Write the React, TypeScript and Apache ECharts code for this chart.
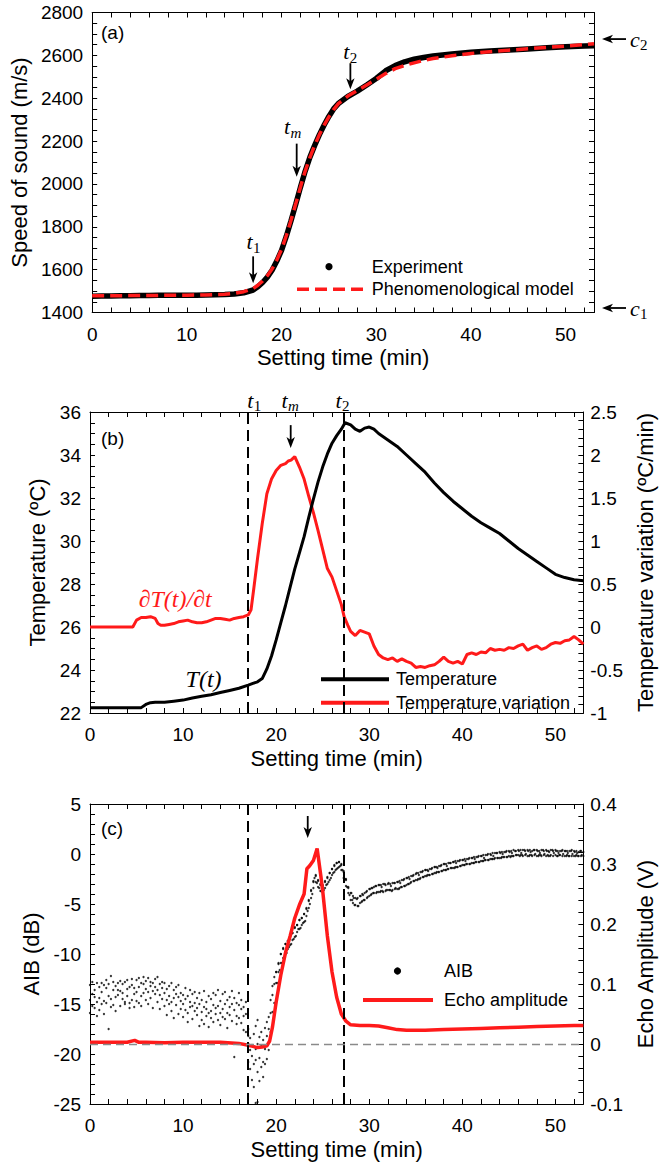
import { useEffect, useRef } from "react";
import * as echarts from "echarts";

const SANS = '"Liberation Sans", Arial, Helvetica, sans-serif';
const SERIF = '"Liberation Serif", "Times New Roman", serif';

// ---------------- Tick labels ----------------
const X_LABELS = [0, 10, 20, 30, 40, 50];
const A_Y_LABELS = [1400, 1600, 1800, 2000, 2200, 2400, 2600, 2800];
const B_LEFT_LABELS = [22, 24, 26, 28, 30, 32, 34, 36];
const B_RIGHT_LABELS = [-1, -0.5, 0, 0.5, 1, 1.5, 2, 2.5];
const C_LEFT_LABELS = [-25, -20, -15, -10, -5, 0, 5];
const C_RIGHT_LABELS = [-0.1, 0, 0.1, 0.2, 0.3, 0.4];

// ---------------- Panel (a): speed of sound ----------------
const A_EXP_T = [0, 1, 2, 3, 4, 5, 6, 7, 8, 9, 10, 11, 12, 13, 14, 15, 16, 17, 17.5, 18, 18.5, 19, 19.5, 20, 20.5, 21, 21.5, 22, 22.5, 23, 23.5, 24, 24.5, 25, 25.5, 26, 27, 28, 29, 30, 31, 32, 33, 34, 35, 36, 38, 40, 42, 44, 46, 48, 50, 52, 53];
const A_EXP_V = [1476, 1477, 1477, 1478, 1478, 1479, 1479, 1480, 1480, 1480, 1481, 1481, 1482, 1483, 1484, 1486, 1492, 1505, 1520, 1540, 1565, 1597, 1640, 1690, 1755, 1828, 1905, 1985, 2060, 2125, 2180, 2230, 2275, 2315, 2350, 2375, 2408, 2433, 2462, 2492, 2528, 2552, 2570, 2582, 2590, 2597, 2606, 2614, 2620, 2625, 2630, 2635, 2640, 2644, 2645];
const A_MOD_T = [0, 5, 10, 12, 14, 15, 16, 17, 17.5, 18, 18.5, 19, 19.5, 20, 20.5, 21, 21.5, 22, 22.5, 23, 23.5, 24, 24.5, 25, 25.5, 26, 27, 28, 29, 30, 31, 32, 33, 34, 35, 36, 38, 40, 42, 44, 46, 48, 50, 52, 53];
const A_MOD_V = [1478, 1479, 1481, 1482, 1485, 1489, 1497, 1512, 1527, 1547, 1572, 1603, 1645, 1695, 1758, 1830, 1907, 1986, 2060, 2124, 2180, 2230, 2274, 2313, 2347, 2375, 2410, 2436, 2462, 2488, 2515, 2538, 2553, 2565, 2576, 2585, 2598, 2609, 2617, 2624, 2631, 2637, 2643, 2650, 2654];

// ---------------- Panel (b): temperature ----------------
const B_TEMP_T = [0, 5.5, 6, 6.5, 7, 8, 9, 10, 11, 12, 13, 14, 15, 16, 17, 17.5, 18, 18.5, 19, 19.5, 20, 20.5, 21, 21.5, 22, 22.5, 23, 23.5, 24, 24.5, 25, 25.5, 26, 26.5, 27, 27.4, 28, 28.5, 29, 29.5, 30, 30.5, 31, 32, 33, 34, 35, 36, 37, 38, 39, 40, 41, 42, 43, 44, 45, 46, 47, 48, 49, 50, 51, 52, 53];
const B_TEMP_V = [22.25, 22.25, 22.4, 22.48, 22.5, 22.5, 22.55, 22.6, 22.7, 22.78, 22.85, 22.95, 23.05, 23.15, 23.3, 23.38, 23.45, 23.6, 24.05, 24.65, 25.4, 26.2, 27.0, 27.85, 28.7, 29.45, 30.2, 31.1, 31.95, 32.75, 33.45, 34.05, 34.55, 34.9, 35.2, 35.5, 35.4, 35.2, 35.1, 35.25, 35.3, 35.2, 35.0, 34.7, 34.4, 34.0, 33.6, 33.2, 32.7, 32.25, 31.85, 31.5, 31.15, 30.85, 30.6, 30.35, 30.0, 29.65, 29.35, 29.05, 28.75, 28.45, 28.3, 28.2, 28.15];
const B_VAR_T = [0, 4.6, 5, 5.5, 6, 6.5, 7, 7.3, 7.6, 8, 8.5, 9, 9.5, 10, 10.5, 11, 11.5, 12, 12.5, 13, 13.5, 14, 14.5, 15, 15.5, 16, 16.5, 17, 17.3, 17.6, 18, 18.5, 19, 19.5, 20, 20.5, 21, 21.3, 21.6, 22, 22.5, 23, 23.5, 24, 24.5, 25, 25.5, 26, 26.5, 27, 27.3, 27.7, 28, 28.5, 29, 29.5, 30, 30.5, 31, 31.5, 32, 32.5, 33, 33.5, 34, 34.5, 35, 35.5, 36, 36.5, 37, 37.5, 38, 38.5, 39, 39.5, 40, 40.5, 41, 41.5, 42, 42.5, 43, 43.5, 44, 44.5, 45, 45.5, 46, 46.5, 47, 47.5, 48, 48.5, 49, 49.5, 50, 50.5, 51, 51.5, 52, 52.5, 53];
const B_VAR_V = [0, 0, 0.08, 0.11, 0.11, 0.12, 0.1, 0.04, 0.02, 0.02, 0.03, 0.04, 0.06, 0.07, 0.08, 0.06, 0.05, 0.05, 0.06, 0.08, 0.1, 0.1, 0.09, 0.08, 0.1, 0.11, 0.12, 0.14, 0.2, 0.45, 0.8, 1.2, 1.55, 1.72, 1.82, 1.88, 1.9, 1.93, 1.94, 1.98, 1.86, 1.72, 1.52, 1.33, 1.12, 0.9, 0.68, 0.58, 0.42, 0.26, 0.12, 0.02, -0.05, -0.1, -0.04, -0.06, -0.08, -0.22, -0.32, -0.36, -0.38, -0.36, -0.4, -0.37, -0.4, -0.42, -0.47, -0.46, -0.47, -0.45, -0.44, -0.4, -0.35, -0.4, -0.42, -0.4, -0.43, -0.32, -0.3, -0.32, -0.29, -0.3, -0.25, -0.27, -0.26, -0.27, -0.24, -0.25, -0.22, -0.2, -0.27, -0.24, -0.22, -0.26, -0.24, -0.2, -0.18, -0.19, -0.16, -0.15, -0.11, -0.15, -0.2];

// ---------------- Panel (c): echo amplitude and AIB ----------------
const C_ECHO_T = [0, 2, 4, 4.8, 5.2, 6, 8, 10, 12, 14, 16, 17, 17.5, 18, 18.5, 19, 19.3, 19.6, 20, 20.5, 21, 21.5, 22, 22.5, 23, 23.3, 23.6, 24, 24.4, 24.8, 25, 25.5, 26, 26.5, 27, 27.5, 28, 29, 30, 31, 32, 33, 34, 36, 38, 40, 42, 44, 46, 48, 50, 52, 53];
const C_ECHO_V = [0.003, 0.003, 0.003, 0.006, 0.003, 0.003, 0.002, 0.003, 0.003, 0.003, 0.001, -0.002, -0.004, -0.006, -0.005, -0.003, 0.005, 0.028, 0.07, 0.115, 0.152, 0.18, 0.21, 0.232, 0.25, 0.292, 0.297, 0.306, 0.326, 0.28, 0.255, 0.18, 0.12, 0.078, 0.05, 0.038, 0.032, 0.031, 0.031, 0.03, 0.027, 0.024, 0.023, 0.023, 0.024, 0.025, 0.026, 0.027, 0.028, 0.029, 0.03, 0.031, 0.031];

// AIB readings: each row is [time, value, value, ...]
const C_AIB_ROWS = [
  [0, -13.1, -14.6, -15.9], [0.25, -14.0, -12.8, -15.2], [0.5, -13.6, -15.4, -14.3], [0.75, -12.9, -14.8, -16.2],
  [1, -14.4, -13.3, -15.6], [1.25, -13.8, -15.0, -12.9], [1.5, -14.7, -13.1, -16.0], [1.75, -13.4, -14.9, -12.6],
  [2, -14.2, -17.5, -13.0], [2.25, -12.2, -14.5, -15.3], [2.5, -13.6, -12.8, -15.1], [2.75, -14.3, -13.2, -15.7],
  [3, -12.9, -14.1, -13.6], [3.25, -13.7, -15.2, -12.7], [3.5, -14.5, -13.0, -13.9], [3.75, -12.8, -14.8, -15.0],
  [4, -13.5, -14.2, -12.6], [4.25, -14.9, -13.3, -15.4], [4.5, -13.1, -12.5, -14.6], [4.75, -14.0, -15.3, -13.4],
  [5, -12.6, -13.8, -14.7], [5.25, -13.3, -14.9, -12.4], [5.5, -14.2, -12.9, -15.2], [5.75, -13.0, -13.9, -12.3],
  [6, -12.7, -14.6, -13.5], [6.25, -13.8, -12.4, -15.0], [6.5, -14.4, -13.2, -12.8], [6.75, -12.9, -15.4, -13.7],
  [7, -12.5, -14.0, -13.3], [7.25, -13.6, -12.3, -14.8], [7.5, -14.1, -13.0, -15.5], [7.75, -12.8, -14.5, -13.4],
  [8, -13.9, -15.2, -12.9], [8.25, -14.6, -13.5, -16.1], [8.5, -13.2, -15.0, -14.2], [8.75, -14.8, -12.9, -15.7],
  [9, -13.6, -14.4, -16.4], [9.25, -15.1, -13.3, -14.0], [9.5, -14.3, -16.0, -13.1], [9.75, -15.5, -13.9, -14.7],
  [10, -14.1, -16.3, -15.0], [10.25, -13.4, -15.6, -14.5], [10.5, -15.9, -14.2, -16.8], [10.75, -14.8, -13.6, -15.3],
  [11, -15.2, -16.5, -14.0], [11.25, -13.8, -15.7, -14.9], [11.5, -16.1, -14.4, -15.4], [11.75, -15.0, -17.2, -13.9],
  [12, -14.6, -15.8, -16.6], [12.25, -15.3, -13.7, -17.0], [12.5, -16.2, -14.8, -15.5], [12.75, -14.2, -15.9, -17.3],
  [13, -15.7, -14.5, -16.4], [13.25, -13.9, -16.8, -15.1], [13.5, -15.4, -14.1, -16.0], [13.75, -16.6, -15.2, -13.6],
  [14, -14.7, -15.9, -17.1], [14.25, -15.5, -14.0, -16.3], [14.5, -13.8, -16.5, -15.0], [14.75, -15.9, -14.6, -17.4],
  [15, -14.3, -16.1, -15.3], [15.25, -16.7, -15.0, -13.7], [15.5, -15.6, -20.3, -14.4], [15.75, -16.2, -14.9, -17.0],
  [16, -15.1, -16.4, -13.9], [16.25, -16.9, -15.5, -14.6], [16.5, -15.3, -17.6, -16.2], [16.75, -14.8, -16.0, -17.8],
  [17, -17.5, -19.0, -20.8, -18.2], [17.2, -19.6, -21.5, -18.4], [17.4, -20.2, -22.6, -19.1], [17.6, -18.0, -21.0, -23.3],
  [17.8, -19.5, -24.9, -20.6, -17.2], [18, -21.8, -24.8, -19.0, -16.6], [18.2, -20.4, -18.3, -22.7], [18.4, -19.2, -21.3, -17.8],
  [18.6, -20.8, -18.6, -22.3], [18.8, -19.5, -17.4, -21.0], [19, -18.2, -20.5, -16.8], [19.2, -17.5, -19.6, -16.3],
  [19.4, -15.9, -17.8, -14.6], [19.6, -14.1, -15.8, -13.2], [19.8, -13.0, -14.9, -12.3],
  [20, -11.8, -12.9], [20.25, -10.9, -11.8], [20.5, -10.0, -10.9], [20.75, -9.5, -10.4],
  [21, -9.0, -9.9], [21.25, -8.7, -9.5], [21.5, -8.2, -9.1], [21.75, -7.9, -8.6],
  [22, -7.4, -8.3], [22.25, -7.1, -7.8], [22.5, -6.6, -7.5], [22.75, -6.4, -7.1],
  [23, -6.0, -6.8], [23.25, -5.4, -6.2], [23.5, -4.6, -5.4], [23.75, -3.6, -4.4],
  [24, -2.7, -3.4], [24.25, -2.1, -2.8], [24.5, -2.6, -3.3], [24.75, -3.0, -3.7],
  [25, -3.1, -3.8], [25.25, -2.7, -3.4], [25.5, -2.3, -3.0], [25.75, -1.9, -2.6],
  [26, -1.5, -2.1], [26.25, -1.1, -1.8], [26.5, -0.9, -1.5], [26.75, -0.8, -1.3],
  [27, -1.0, -1.6], [27.25, -1.7, -2.4], [27.5, -2.5, -3.2], [27.75, -3.3, -3.9],
  [28, -3.9, -4.6], [28.25, -4.2, -4.9], [28.5, -4.4, -5.1], [28.75, -4.4, -5.2],
  [29, -4.2, -4.9], [29.25, -4.0, -4.7], [29.5, -3.9, -4.6], [29.75, -3.7, -4.4],
  [30, -3.5, -4.2], [30.25, -3.4, -4.0], [30.5, -3.3, -3.9], [30.75, -3.2, -3.9],
  [31, -3.1, -3.8], [31.25, -3.1, -3.7], [31.5, -3.0, -3.8], [31.75, -3.1, -3.7],
  [32, -3.0, -3.6], [32.25, -3.0, -3.6], [32.5, -2.9, -3.6], [32.75, -2.9, -3.5],
  [33, -2.8, -3.5], [33.25, -2.7, -3.4], [33.5, -2.6, -3.3], [33.75, -2.5, -3.2],
  [34, -2.4, -3.1], [34.25, -2.3, -3.0], [34.5, -2.2, -2.8], [34.75, -2.1, -2.7],
  [35, -2.0, -2.6], [35.25, -1.9, -2.5], [35.5, -1.8, -2.4], [35.75, -1.7, -2.3],
  [36, -1.6, -2.2], [36.25, -1.6, -2.1], [36.5, -1.5, -2.1], [36.75, -1.4, -2.0],
  [37, -1.3, -1.9], [37.25, -1.3, -1.8], [37.5, -1.2, -1.8], [37.75, -1.1, -1.7],
  [38, -1.0, -1.6], [38.25, -1.0, -1.6], [38.5, -0.9, -1.5], [38.75, -0.9, -1.4],
  [39, -0.8, -1.4], [39.25, -0.7, -1.3], [39.5, -0.7, -1.3], [39.75, -0.6, -1.2],
  [40, -0.6, -1.1], [40.25, -0.5, -1.1], [40.5, -0.5, -1.0], [40.75, -0.4, -1.0],
  [41, -0.4, -0.9], [41.25, -0.3, -0.9], [41.5, -0.3, -0.8], [41.75, -0.2, -0.8],
  [42, -0.2, -0.7], [42.25, -0.1, -0.7], [42.5, -0.1, -0.6], [42.75, 0.0, -0.6],
  [43, 0.0, -0.5], [43.25, 0.1, -0.5], [43.5, 0.1, -0.4], [43.75, 0.1, -0.4],
  [44, 0.2, -0.4], [44.25, 0.2, -0.3], [44.5, 0.2, -0.3], [44.75, 0.3, -0.3],
  [45, 0.3, -0.2], [45.25, 0.3, -0.2], [45.5, 0.4, -0.2], [45.75, 0.3, -0.1],
  [46, 0.4, -0.1], [46.25, 0.4, -0.1], [46.5, 0.4, -0.2], [46.75, 0.3, -0.1],
  [47, 0.4, -0.2], [47.25, 0.4, -0.1], [47.5, 0.3, -0.2], [47.75, 0.4, -0.1],
  [48, 0.4, -0.2], [48.25, 0.3, -0.1], [48.5, 0.4, -0.2], [48.75, 0.3, -0.1],
  [49, 0.4, -0.2], [49.25, 0.3, -0.2], [49.5, 0.4, -0.1], [49.75, 0.3, -0.2],
  [50, 0.4, -0.1], [50.25, 0.3, -0.2], [50.5, 0.3, -0.1], [50.75, 0.4, -0.2],
  [51, 0.3, -0.2], [51.25, 0.3, -0.1], [51.5, 0.3, -0.2], [51.75, 0.4, -0.2],
  [52, 0.3, -0.2], [52.25, 0.3, -0.1], [52.5, 0.2, -0.2], [52.75, 0.3, -0.2],
  [53, 0.2, -0.2],
];

// Further AIB readings inside the band after the set point: [time, value]
const C_AIB_PAIRS = [
  [20.0, -11.8], [20.12, -12.9], [20.25, -11.0], [20.38, -11.6], [20.5, -10.0], [20.62, -10.9], [20.75, -9.4], [20.88, -10.3],
  [21.0, -9.0], [21.12, -9.9], [21.25, -8.7], [21.38, -9.3], [21.5, -8.2], [21.62, -9.0], [21.75, -7.9], [21.88, -8.5],
  [22.0, -7.3], [22.12, -8.2], [22.25, -7.1], [22.38, -7.5], [22.5, -6.6], [22.62, -7.4], [22.75, -6.4], [22.88, -6.9],
  [23.0, -6.0], [23.12, -6.7], [23.25, -5.5], [23.38, -5.7], [23.5, -4.7], [23.62, -5.0], [23.75, -3.7], [23.88, -4.0],
  [24.0, -2.8], [24.12, -2.4], [24.25, -2.2], [24.38, -2.9], [24.5, -2.7], [24.62, -3.4], [24.75, -3.1], [24.88, -3.7],
  [25.0, -3.2], [25.12, -3.6], [25.25, -2.8], [25.38, -3.1], [25.5, -2.4], [25.62, -2.8], [25.75, -1.9], [25.88, -2.4],
  [26.0, -1.5], [26.12, -1.9], [26.25, -1.2], [26.38, -1.6], [26.5, -0.9], [26.62, -1.4], [26.75, -0.8], [26.88, -1.2],
  [27.0, -1.1], [27.12, -1.6], [27.25, -1.8], [27.38, -2.5], [27.5, -2.6], [27.62, -3.3], [27.75, -3.4], [27.88, -4.1],
  [28.08, -3.9], [28.17, -4.6], [28.33, -4.4], [28.42, -5.1], [28.67, -4.5], [28.83, -5.2],
  [29.08, -4.2], [29.17, -4.8], [29.33, -4.1], [29.42, -4.6], [29.67, -3.8], [29.83, -4.3],
  [30.08, -3.5], [30.17, -4.1], [30.33, -3.4], [30.42, -3.9], [30.67, -3.2], [30.83, -3.8],
  [31.08, -3.1], [31.17, -3.8], [31.33, -3.3], [31.42, -3.7], [31.67, -3.0], [31.83, -3.6],
  [32.08, -2.9], [32.17, -3.6], [32.33, -3.2], [32.42, -3.7], [32.67, -2.9], [32.83, -3.4],
  [33.08, -2.8], [33.17, -3.5], [33.33, -2.9], [33.42, -3.3], [33.67, -2.6], [33.83, -3.2],
  [34.08, -2.4], [34.17, -3.0], [34.33, -2.5], [34.42, -2.9], [34.67, -2.2], [34.83, -2.7],
  [35.08, -1.9], [35.17, -2.6], [35.33, -2.1], [35.42, -2.5], [35.67, -1.8], [35.83, -2.3],
  [36.08, -1.6], [36.17, -2.2], [36.33, -1.7], [36.42, -2.1], [36.67, -1.5], [36.83, -2.0],
  [37.08, -1.3], [37.17, -1.9], [37.33, -1.4], [37.42, -1.8], [37.67, -1.2], [37.83, -1.7],
  [38.08, -1.0], [38.17, -1.6], [38.33, -1.2], [38.42, -1.5], [38.67, -0.9], [38.83, -1.4],
  [39.08, -0.8], [39.17, -1.4], [39.33, -0.9], [39.42, -1.3], [39.67, -0.7], [39.83, -1.2],
  [40.08, -0.6], [40.17, -1.1], [40.33, -0.7], [40.42, -1.0], [40.67, -0.5], [40.83, -1.0],
  [41.08, -0.4], [41.17, -0.9], [41.33, -0.5], [41.42, -0.8], [41.67, -0.3], [41.83, -0.8],
  [42.08, -0.2], [42.17, -0.7], [42.33, -0.4], [42.42, -0.6], [42.67, -0.1], [42.83, -0.6],
  [43.08, -0.1], [43.17, -0.5], [43.33, -0.2], [43.42, -0.5], [43.67, 0.1], [43.83, -0.4],
  [44.08, 0.1], [44.17, -0.4], [44.33, 0.0], [44.42, -0.3], [44.67, 0.2], [44.83, -0.3],
  [45.08, 0.2], [45.17, -0.3], [45.33, 0.1], [45.42, -0.2], [45.67, 0.3], [45.83, -0.1],
  [46.08, 0.3], [46.17, -0.2], [46.33, 0.1], [46.42, -0.1], [46.67, 0.4], [46.83, 0.0],
  [47.08, 0.3], [47.17, -0.2], [47.33, 0.2], [47.42, -0.1], [47.67, 0.4], [47.83, 0.0],
  [48.08, 0.3], [48.17, -0.2], [48.33, 0.1], [48.42, -0.1], [48.67, 0.4], [48.83, 0.0],
  [49.08, 0.3], [49.17, -0.1], [49.33, 0.2], [49.42, -0.2], [49.67, 0.4], [49.83, 0.1],
  [50.08, 0.3], [50.17, -0.2], [50.33, 0.1], [50.42, -0.1], [50.67, 0.3], [50.83, 0.0],
  [51.08, 0.3], [51.17, -0.2], [51.33, 0.1], [51.42, -0.2], [51.67, 0.3], [51.83, 0.0],
  [52.08, 0.2], [52.17, -0.2], [52.33, 0.1], [52.42, -0.2], [52.67, 0.3], [52.83, -0.1],
];

// ---------------- Event times and annotation anchors (data coords) ----------------
const T1 = 17.0;
const T2 = 27.3;
const ANN_A_T1 = [17.0, 1536];
const ANN_A_TM = [21.6, 2034];
const ANN_A_T2 = [27.27, 2442];
const ANN_A_C2 = [53, 2676];
const ANN_A_C1 = [53, 1421];
const ANN_B_TM = [21.56, 34.32];
const ANN_B_DT = [9.15, 27.3];
const ANN_B_TT = [12.2, 23.6];
const ANN_C_ARROW = [23.39, 1.6];

const zip = (xs: number[], ys: number[]) => xs.map((x, i) => [x, ys[i]]);
const lblFmt = (labels: number[]) => (v: number) => {
  const hit = labels.find((l) => Math.abs(l - v) < 1e-6);
  return hit === undefined ? "" : String(hit);
};

const axisLine = { show: true, onZero: false, lineStyle: { color: "#000", width: 1 } };
const tick = { show: true, inside: true, length: 5, lineStyle: { color: "#000", width: 1 } };
const nameStyle = { fontSize: 22, fontFamily: SANS, color: "#000" };

function xAxes(gridIndex: number) {
  return [
    {
      type: "value", gridIndex, position: "bottom", min: 0, max: 53, interval: 2,
      axisLine, axisTick: tick, splitLine: { show: false },
      axisLabel: { margin: 12, fontSize: 19, fontFamily: SANS, color: "#000", formatter: lblFmt(X_LABELS) },
      name: "Setting time (min)", nameLocation: "middle", nameGap: 34, nameTextStyle: nameStyle,
    },
    {
      type: "value", gridIndex, position: "top", min: 0, max: 53, interval: 2,
      axisLine, axisTick: tick, splitLine: { show: false }, axisLabel: { show: false },
    },
  ];
}

function yAxis(gridIndex: number, position: string, min: number, max: number, interval: number, labels: number[] | null, name: string, nameGap: number) {
  return {
    type: "value", gridIndex, position, min, max, interval,
    axisLine, axisTick: tick, splitLine: { show: false },
    axisLabel: labels
      ? { show: true, margin: position === "left" ? 9 : 7, fontSize: 19, fontFamily: SANS, color: "#000", formatter: lblFmt(labels) }
      : { show: false },
    name, nameLocation: "middle", nameGap, nameTextStyle: nameStyle,
  };
}

const vLine = (x: number) => ({ xAxis: x, lineStyle: { color: "#000", width: 2, type: [11, 6] } });

function buildOption() {
  const aib = [...C_AIB_ROWS.flatMap(([t, ...vs]) => vs.map((v) => [t, v])), ...C_AIB_PAIRS];
  return {
    animation: false,
    backgroundColor: "#fff",
    grid: [
      { left: 90, top: 12.5, width: 504, height: 300 },
      { left: 90, top: 412, width: 504, height: 301 },
      { left: 90, top: 804, width: 504, height: 300 },
    ],
    xAxis: [...xAxes(0), ...xAxes(1), ...xAxes(2)],
    yAxis: [
      yAxis(0, "left", 1400, 2800, 50, A_Y_LABELS, "Speed of sound (m/s)", 61),
      yAxis(0, "right", 1400, 2800, 50, null, "", 0),
      yAxis(1, "left", 22, 36, 0.5, B_LEFT_LABELS, "Temperature (ºC)", 39),
      yAxis(1, "right", -1, 2.5, 0.1, B_RIGHT_LABELS, "Temperature variation (ºC/min)", 49),
      yAxis(2, "left", -25, 5, 1, C_LEFT_LABELS, "AIB (dB)", 41),
      yAxis(2, "right", -0.1, 0.4, 0.02, C_RIGHT_LABELS, "Echo Amplitude (V)", 45),
    ],
    series: [
      {
        name: "Experiment", type: "line", xAxisIndex: 0, yAxisIndex: 0, data: zip(A_EXP_T, A_EXP_V),
        symbol: "none", lineStyle: { color: "#000", width: 5.5 }, z: 2, silent: true,
      },
      {
        name: "Phenomenological model", type: "line", xAxisIndex: 0, yAxisIndex: 0, data: zip(A_MOD_T, A_MOD_V),
        symbol: "none", lineStyle: { color: "#ff1a1a", width: 3.5, type: [12, 6] }, z: 3, silent: true,
      },
      {
        name: "Temperature", type: "line", xAxisIndex: 2, yAxisIndex: 2, data: zip(B_TEMP_T, B_TEMP_V),
        symbol: "none", lineStyle: { color: "#000", width: 3 }, z: 3, silent: true,
      },
      {
        name: "Temperature variation", type: "line", xAxisIndex: 2, yAxisIndex: 3, data: zip(B_VAR_T, B_VAR_V),
        symbol: "none", lineStyle: { color: "#ff1a1a", width: 3 }, z: 2, silent: true,
        markLine: { silent: true, symbol: ["none", "none"], label: { show: false }, data: [vLine(T1), vLine(T2)] },
      },
      {
        name: "AIB", type: "scatter", xAxisIndex: 4, yAxisIndex: 4, data: aib,
        symbol: "circle", symbolSize: 2.3, itemStyle: { color: "#000" }, z: 1, silent: true,
      },
      {
        name: "Echo amplitude", type: "line", xAxisIndex: 4, yAxisIndex: 5, data: zip(C_ECHO_T, C_ECHO_V),
        symbol: "none", lineStyle: { color: "#ff1a1a", width: 3.5 }, z: 2, silent: true,
        markLine: {
          silent: true, symbol: ["none", "none"], label: { show: false },
          data: [vLine(T1), vLine(T2), { yAxis: 0, lineStyle: { color: "#8a8a8a", width: 1.3, type: [8, 5] } }],
        },
      },
    ],
  };
}

function buildGraphics(chart: any) {
  const P = (xi: number, yi: number, p: number[]) => chart.convertToPixel({ xAxisIndex: xi, yAxisIndex: yi }, p) as number[];
  const els: any[] = [];
  const text = (x: number, y: number, s: string, o: any = {}) => ({
    type: "text", x, y, silent: true,
    style: {
      text: s, fill: o.color || "#000", fontSize: o.size || 19, fontFamily: o.family || SANS,
      fontStyle: o.italic ? "italic" : "normal",
      align: o.align || "left", textAlign: o.align || "left",
      verticalAlign: "middle", textVerticalAlign: "middle",
    },
  });
  const math = (left: number, cy: number, main: string, sub: string, subItalic = false, color = "#000") => [
    text(left, cy, main, { size: 22, family: SERIF, italic: true, color }),
    text(left + (main === "c" ? 10 : 6.5), cy + 6, sub, { size: 15, family: SERIF, italic: subItalic, color }),
  ];
  const arrowDown = (x: number, tipY: number, len: number) => [
    { type: "line", silent: true, shape: { x1: x, y1: tipY - len, x2: x, y2: tipY - 6 }, style: { stroke: "#000", lineWidth: 1.8 } },
    { type: "polygon", silent: true, shape: { points: [[x - 4.2, tipY - 11], [x, tipY - 8], [x + 4.2, tipY - 11], [x, tipY]] }, style: { fill: "#000" } },
  ];
  const arrowLeft = (tipX: number, y: number, len: number) => [
    { type: "line", silent: true, shape: { x1: tipX + 6, y1: y, x2: tipX + len, y2: y }, style: { stroke: "#000", lineWidth: 1.8 } },
    { type: "polygon", silent: true, shape: { points: [[tipX + 11, y - 4.2], [tipX + 8, y], [tipX + 11, y + 4.2], [tipX, y]] }, style: { fill: "#000" } },
  ];

  // panel letters
  els.push(text(101, 32, "(a)"), text(101, 438, "(b)"), text(101, 828, "(c)"));

  // ---- (a)
  const a1 = P(0, 0, ANN_A_T1);
  els.push(...arrowDown(a1[0], a1[1], 27), ...math(a1[0] - 6.7, a1[1] - 41.6, "t", "1"));
  const am = P(0, 0, ANN_A_TM);
  els.push(...arrowDown(am[0], am[1], 33), ...math(am[0] - 12.7, am[1] - 50, "t", "m", true));
  const a2 = P(0, 0, ANN_A_T2);
  els.push(...arrowDown(a2[0], a2[1], 26), ...math(a2[0] - 7.2, a2[1] - 37.6, "t", "2"));
  const c2 = P(0, 0, ANN_A_C2);
  els.push(...arrowLeft(c2[0] + 8, c2[1], 24), ...math(c2[0] + 36, c2[1], "c", "2"));
  const c1 = P(0, 0, ANN_A_C1);
  els.push(...arrowLeft(c1[0] + 8, c1[1], 24), ...math(c1[0] + 36, c1[1], "c", "1"));

  // legend (a)
  els.push({ type: "circle", silent: true, shape: { cx: 329, cy: 266.7, r: 3.6 }, style: { fill: "#000" } });
  els.push(text(371.7, 266.7, "Experiment", { size: 18 }));
  els.push({ type: "line", silent: true, shape: { x1: 297, y1: 289.3, x2: 365, y2: 289.3 }, style: { stroke: "#ff1a1a", lineWidth: 3.5, lineDash: [12, 6] } });
  els.push(text(371.7, 289.3, "Phenomenological model", { size: 18 }));

  // ---- (b)
  const bt1 = P(2, 2, [T1, 36]);
  const bt2 = P(2, 2, [T2, 36]);
  const bm = P(2, 2, ANN_B_TM);
  els.push(...math(bt1[0] - 1, 400, "t", "1"));
  els.push(...math(bm[0] - 9.3, 400, "t", "m", true));
  els.push(...math(bt2[0] - 8.6, 400, "t", "2"));
  els.push(...arrowDown(bm[0], bm[1], 23));
  const dt = P(2, 2, ANN_B_DT);
  els.push(text(dt[0], dt[1], "∂T(t)/∂t", { size: 24, family: SERIF, italic: true, color: "#ff1a1a", align: "center" }));
  const tt = P(2, 2, ANN_B_TT);
  els.push(text(tt[0], tt[1], "T(t)", { size: 24, family: SERIF, italic: true, align: "center" }));

  // legend (b)
  els.push({ type: "line", silent: true, shape: { x1: 321, y1: 679.3, x2: 389, y2: 679.3 }, style: { stroke: "#000", lineWidth: 4 } });
  els.push(text(396, 679.3, "Temperature", { size: 18 }));
  els.push({ type: "line", silent: true, shape: { x1: 321, y1: 702.7, x2: 389, y2: 702.7 }, style: { stroke: "#ff1a1a", lineWidth: 4 } });
  els.push(text(396, 702.7, "Temperature variation", { size: 18 }));

  // ---- (c)
  const ca = P(4, 4, ANN_C_ARROW);
  els.push(...arrowDown(ca[0], ca[1], 22));
  els.push({ type: "circle", silent: true, shape: { cx: 397.5, cy: 971, r: 3.6 }, style: { fill: "#000" } });
  els.push(text(444, 971, "AIB", { size: 18 }));
  els.push({ type: "line", silent: true, shape: { x1: 363, y1: 1000, x2: 433, y2: 1000 }, style: { stroke: "#ff1a1a", lineWidth: 4 } });
  els.push(text(444, 1000, "Echo amplitude", { size: 18 }));

  return els;
}

export default function App() {
  const ref = useRef<HTMLDivElement>(null);
  useEffect(() => {
    const chart = echarts.init(ref.current!, null, { renderer: "svg" });
    chart.setOption(buildOption() as any);
    chart.setOption({ graphic: { elements: buildGraphics(chart) } } as any);
    return () => chart.dispose();
  }, []);
  return (
    <div
      ref={ref}
      style={{ position: "absolute", left: 0, top: 0, width: 664, height: 1163, background: "#fff" }}
    />
  );
}
